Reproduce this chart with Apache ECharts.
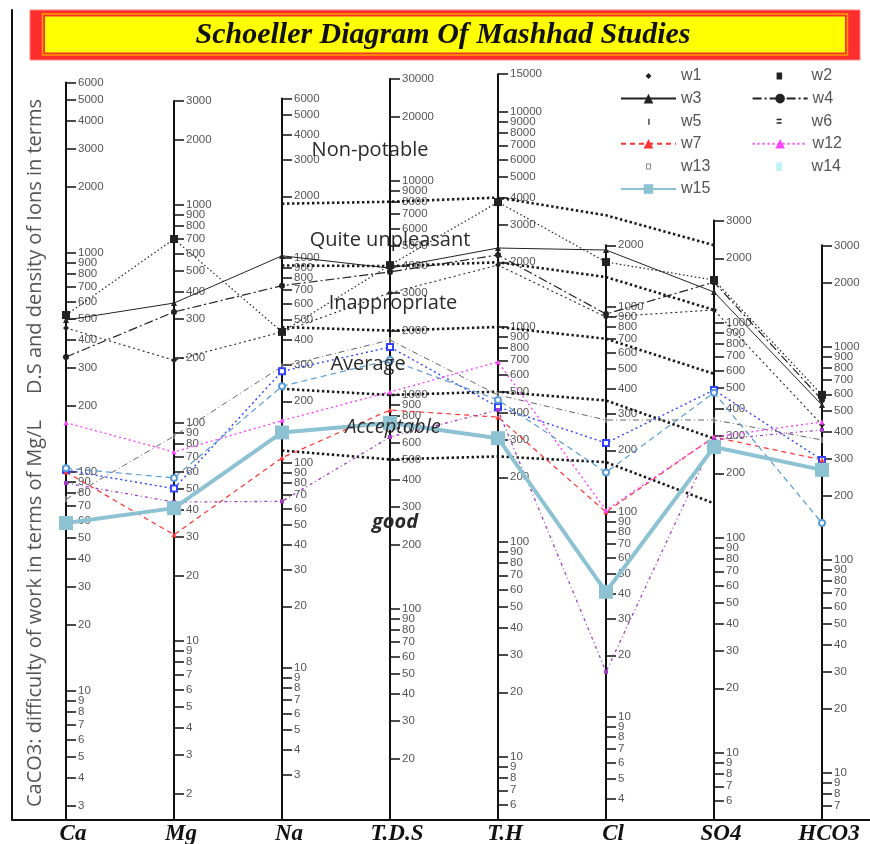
<!DOCTYPE html>
<html>
<head>
<meta charset="utf-8">
<script src="https://cdn.jsdelivr.net/npm/echarts@6/dist/echarts.min.js"></script>
<style>
  html, body { margin: 0; padding: 0; background: #fff; }
  #chart { width: 870px; height: 844px; }
</style>
</head>
<body>
<div id="chart"></div>
<script>
// ---- data -----------------------------------------------------------------
const categories = ['Ca', 'Mg', 'Na', 'T.D.S', 'T.H', 'Cl', 'SO4', 'HCO3'];

// tick values printed on each vertical logarithmic scale
const ticksCa   = [3,4,5,6,7,8,9,10,20,30,40,50,60,70,80,90,100,200,300,400,500,600,700,800,900,1000,2000,3000,4000,5000,6000];
const ticksMg   = [2,3,4,5,6,7,8,9,10,20,30,40,50,60,70,80,90,100,200,300,400,500,600,700,800,900,1000,2000,3000];
const ticksNa   = [3,4,5,6,7,8,9,10,20,30,40,50,60,70,80,90,100,200,300,400,500,600,700,800,900,1000,2000,3000,4000,5000,6000];
const ticksTDS  = [20,30,40,50,60,70,80,90,100,200,300,400,500,600,700,800,900,1000,2000,3000,4000,5000,6000,7000,8000,9000,10000,20000,30000];
const ticksTH   = [6,7,8,9,10,20,30,40,50,60,70,80,90,100,200,300,400,500,600,700,800,900,1000,2000,3000,4000,5000,6000,7000,8000,9000,10000,15000];
const ticksCl   = [4,5,6,7,8,9,10,20,30,40,50,60,70,80,90,100,200,300,400,500,600,700,800,900,1000,2000];
const ticksSO4  = [6,7,8,9,10,20,30,40,50,60,70,80,90,100,200,300,400,500,600,700,800,900,1000,2000,3000];
const ticksHCO3 = [7,8,9,10,20,30,40,50,60,70,80,90,100,200,300,400,500,600,700,800,900,1000,2000,3000];

// sample concentrations (mg/L), order: Ca, Mg, Na, T.D.S, T.H, Cl, SO4, HCO3
const w1  = [455, 194, 436, 3000, 1940, 894, 1150, 431];
const w2  = [521, 698, 436, 4045, 3811, 1657, 1585, 596];
const w3  = [494, 355, 1025, 3918, 2330, 1897, 1393, 534];
const w4  = [335, 323, 733, 3760, 2163, 924, 1549, 564];
const w5  = [75, 87, 296, 1807, 483, 281, 354, 366];
const w6  = [102, 50, 280, 1675, 425, 217, 488, 295];
const w7  = [100, 30.7, 106, 851, 381, 100, 295, 295];
const w12 = [168, 73.6, 161, 1033, 688, 102, 295, 445];
const w13 = [104, 56, 237, 1458, 458, 156, 474, 149];
const w14 = [89, 43.4, 65, 636, 411, 16.6, 286, 408];
const w15 = [58.5, 40.7, 141, 740, 304, 40.8, 265, 265];

// drinking-water class limits (only Na, T.D.S, T.H, Cl and SO4 are classified)
const limitGood          = [null, null, 115, 500, 250, 175, 145, null];
const limitAcceptable    = [null, null, 230, 1000, 500, 350, 290, null];
const limitAverage       = [null, null, 460, 2000, 1000, 700, 580, null];
const limitInappropriate = [null, null, 920, 4000, 2000, 1400, 1150, null];
const limitUnpleasant    = [null, null, 1840, 8000, 4000, 2800, 2300, null];

// ---- layout ---------------------------------------------------------------
const allTicks = [ticksCa, ticksMg, ticksNa, ticksTDS, ticksTH, ticksCl, ticksSO4, ticksHCO3];
// each scale: reference value, its pixel row and the pixel length of one decade
const axisScale = [
  { ref: 100,  at: 472, decade: 219 },
  { ref: 100,  at: 423, decade: 218 },
  { ref: 100,  at: 463, decade: 205 },
  { ref: 1000, at: 395, decade: 214 },
  { ref: 1000, at: 327, decade: 215 },
  { ref: 1000, at: 307, decade: 205 },
  { ref: 100,  at: 538, decade: 215 },
  { ref: 1000, at: 347, decade: 213 }
];
const PLOT_TOP = 10, PLOT_BOTTOM = 820, PLOT_LEFT = 12, BAND = 108;

function rowOf(k, v) {
  const s = axisScale[k];
  return s.at - s.decade * Math.log10(v / s.ref);
}
// height above the common baseline, read on scale k
function heightOn(k, v) { return PLOT_BOTTOM - rowOf(k, v); }
function toPlot(values) {
  return values.map((v, k) => (v == null ? '-' : +heightOn(k, v).toFixed(2)));
}

const grids = [{
  left: PLOT_LEFT, top: PLOT_TOP, width: BAND * categories.length, bottom: 844 - PLOT_BOTTOM,
  outerBoundsMode: 'none', containLabel: false
}];
const xAxes = [{
  type: 'category', gridIndex: 0, data: categories, boundaryGap: true,
  axisLine: { lineStyle: { color: '#111', width: 2 } },
  axisTick: { show: false },
  axisLabel: {
    margin: 3, color: '#111', fontFamily: 'Liberation Serif', fontStyle: 'italic',
    fontWeight: 'bold', fontSize: 23, padding: [0, 0, 0, 14]
  }
}];
const yAxes = [{
  type: 'value', gridIndex: 0, min: 0, max: PLOT_BOTTOM - PLOT_TOP,
  axisLine: { show: true, lineStyle: { color: '#111', width: 2 } },
  axisTick: { show: false }, axisLabel: { show: false }, splitLine: { show: false }
}];

allTicks.forEach((ticks, k) => {
  const s = axisScale[k];
  const topVal = ticks[ticks.length - 1];
  const top = rowOf(k, topVal);
  const logs = ticks.map(t => Math.log10(t));
  grids.push({
    left: PLOT_LEFT + (k + 0.5) * BAND, width: 1, top: top, bottom: 844 - PLOT_BOTTOM,
    outerBoundsMode: 'none', containLabel: false
  });
  xAxes.push({ type: 'value', gridIndex: k + 1, show: false });
  yAxes.push({
    type: 'value', gridIndex: k + 1, position: 'left',
    min: Math.log10(s.ref) - (PLOT_BOTTOM - s.at) / s.decade,
    max: Math.log10(topVal),
    axisLine: { show: true, onZero: false, lineStyle: { color: '#111', width: 2 } },
    axisTick: { show: true, inside: true, length: 10, customValues: logs, lineStyle: { color: '#111', width: 1.5 } },
    axisLabel: {
      show: true, inside: true, margin: 12, customValues: logs,
      formatter: v => String(Math.round(Math.pow(10, v))),
      fontSize: 11.5, color: '#555', fontFamily: 'Liberation Sans'
    },
    splitLine: { show: false }
  });
});

function sample(name, values, color, lineType, width, symbol, symbolSize) {
  return {
    name: name, type: 'line', xAxisIndex: 0, yAxisIndex: 0,
    data: toPlot(values), connectNulls: false,
    symbol: symbol, symbolSize: symbolSize, showSymbol: true,
    itemStyle: { color: color }, lineStyle: { color: color, width: width, type: lineType },
    z: 5, silent: true
  };
}
function limit(values) {
  return {
    type: 'line', xAxisIndex: 0, yAxisIndex: 0, data: toPlot(values), symbol: 'none',
    lineStyle: { color: '#1a1a1a', width: 2.6, type: [2.4, 2.6] }, z: 3, silent: true
  };
}

const series = [
  limit(limitGood), limit(limitAcceptable), limit(limitAverage),
  limit(limitInappropriate), limit(limitUnpleasant),
  sample('w1', w1, '#222', [2, 3], 1.1, 'diamond', 6),
  sample('w2', w2, '#222', [1.5, 2.5], 1.2, 'rect', 8),
  sample('w3', w3, '#222', 'solid', 1, 'triangle', 6),
  sample('w4', w4, '#222', [9, 3, 2, 3], 1.2, 'circle', 6),
  sample('w5', w5, '#666', [6, 3, 1, 3], 1, 'rect', [2, 6]),
  sample('w6', w6, '#3344ff', [2, 3], 1.4, 'emptyRect', 6),
  sample('w7', w7, '#ff3333', [5, 4], 1.2, 'triangle', 5),
  sample('w12', w12, '#ff44ff', [2, 3], 1.4, 'triangle', 5),
  sample('w13', w13, '#5b9bd5', [6, 4], 1.2, 'emptyCircle', 6),
  sample('w14', w14, '#a040c0', [3, 3, 1, 3], 1.3, 'rect', 4),
  sample('w15', w15, '#8dc2d2', 'solid', 4, 'rect', 14)
];

const box = 'M0 0Z M55 12Z ';
const legendData = [
  { name: 'w1', icon: 'path://' + box + 'M27.5 3L30.5 6L27.5 9L24.5 6Z' },
  { name: 'w2', icon: 'path://' + box + 'M25 2.5h5.5v7h-5.5z' },
  { name: 'w3' },
  { name: 'w4' },
  { name: 'w5', icon: 'path://' + box + 'M27 3.5h1.8v6h-1.8z' },
  { name: 'w6', icon: 'path://' + box + 'M25 3.5h5v1.6h-5z M25 7h5v1.6h-5z', itemStyle: { color: '#222' } },
  { name: 'w7' },
  { name: 'w12' },
  { name: 'w13', icon: 'path://' + box + 'M25 3h5v6h-5z M26 4v4h3v-4z', itemStyle: { color: '#888' } },
  { name: 'w14', icon: 'path://' + box + 'M24.5 2h6v8.5h-6z', itemStyle: { color: '#bff3f7' } },
  { name: 'w15' }
];

const regionText = (text, x, y, italic, bold) => ({
  type: 'text', x: x, y: y, z: 20, silent: true,
  style: {
    text: text, fill: '#2a2a2a', font: (italic ? 'italic ' : '') + (bold ? 'bold ' : '') + '20px "Open Sans"',
    textAlign: 'center', textVerticalAlign: 'middle'
  }
});

const option = {
  animation: false,
  grid: grids, xAxis: xAxes, yAxis: yAxes, series: series,
  legend: {
    data: legendData, left: 615, top: 63, width: 280,
    itemWidth: 55, itemHeight: 12, itemGap: 6.6, selectedMode: false,
    textStyle: { fontSize: 16, color: '#555', width: 64, lineHeight: 16, fontFamily: 'Liberation Sans' }
  },
  graphic: [
    { type: 'rect', shape: { x: 30, y: 10, width: 830, height: 50 }, style: { fill: '#ff2e2e', stroke: '#ff8080', lineWidth: 1 }, z: 10 },
    { type: 'rect', shape: { x: 42.5, y: 14, width: 805, height: 41 }, style: { fill: null, stroke: '#ffa000', lineWidth: 1.5 }, z: 11 },
    { type: 'rect', shape: { x: 45, y: 16.5, width: 800, height: 36 }, style: { fill: '#ffff00' }, z: 12 },
    {
      type: 'text', x: 443, y: 35, z: 13,
      style: {
        text: 'Schoeller Diagram Of Mashhad Studies', fill: '#111',
        font: 'italic bold 30px "Liberation Serif"', textAlign: 'center', textVerticalAlign: 'middle'
      }
    },
    {
      type: 'text', x: 35, y: 453, rotation: Math.PI / 2, z: 13,
      style: {
        text: 'CaCO3: difficulty of work in terms of Mg/L     D.S and density of Ions in terms',
        fill: '#555', font: '20px "Open Sans"', textAlign: 'center', textVerticalAlign: 'middle'
      }
    },
    regionText('Non-potable', 370, 150),
    regionText('Quite unpleasant', 390, 240),
    regionText('Inappropriate', 393, 303),
    regionText('Average', 368, 364),
    regionText('Acceptable', 393, 427, true),
    regionText('good', 395, 522, true, true)
  ]
};

echarts.init(document.getElementById('chart'), null, { renderer: 'canvas' }).setOption(option);
</script>
</body>
</html>
